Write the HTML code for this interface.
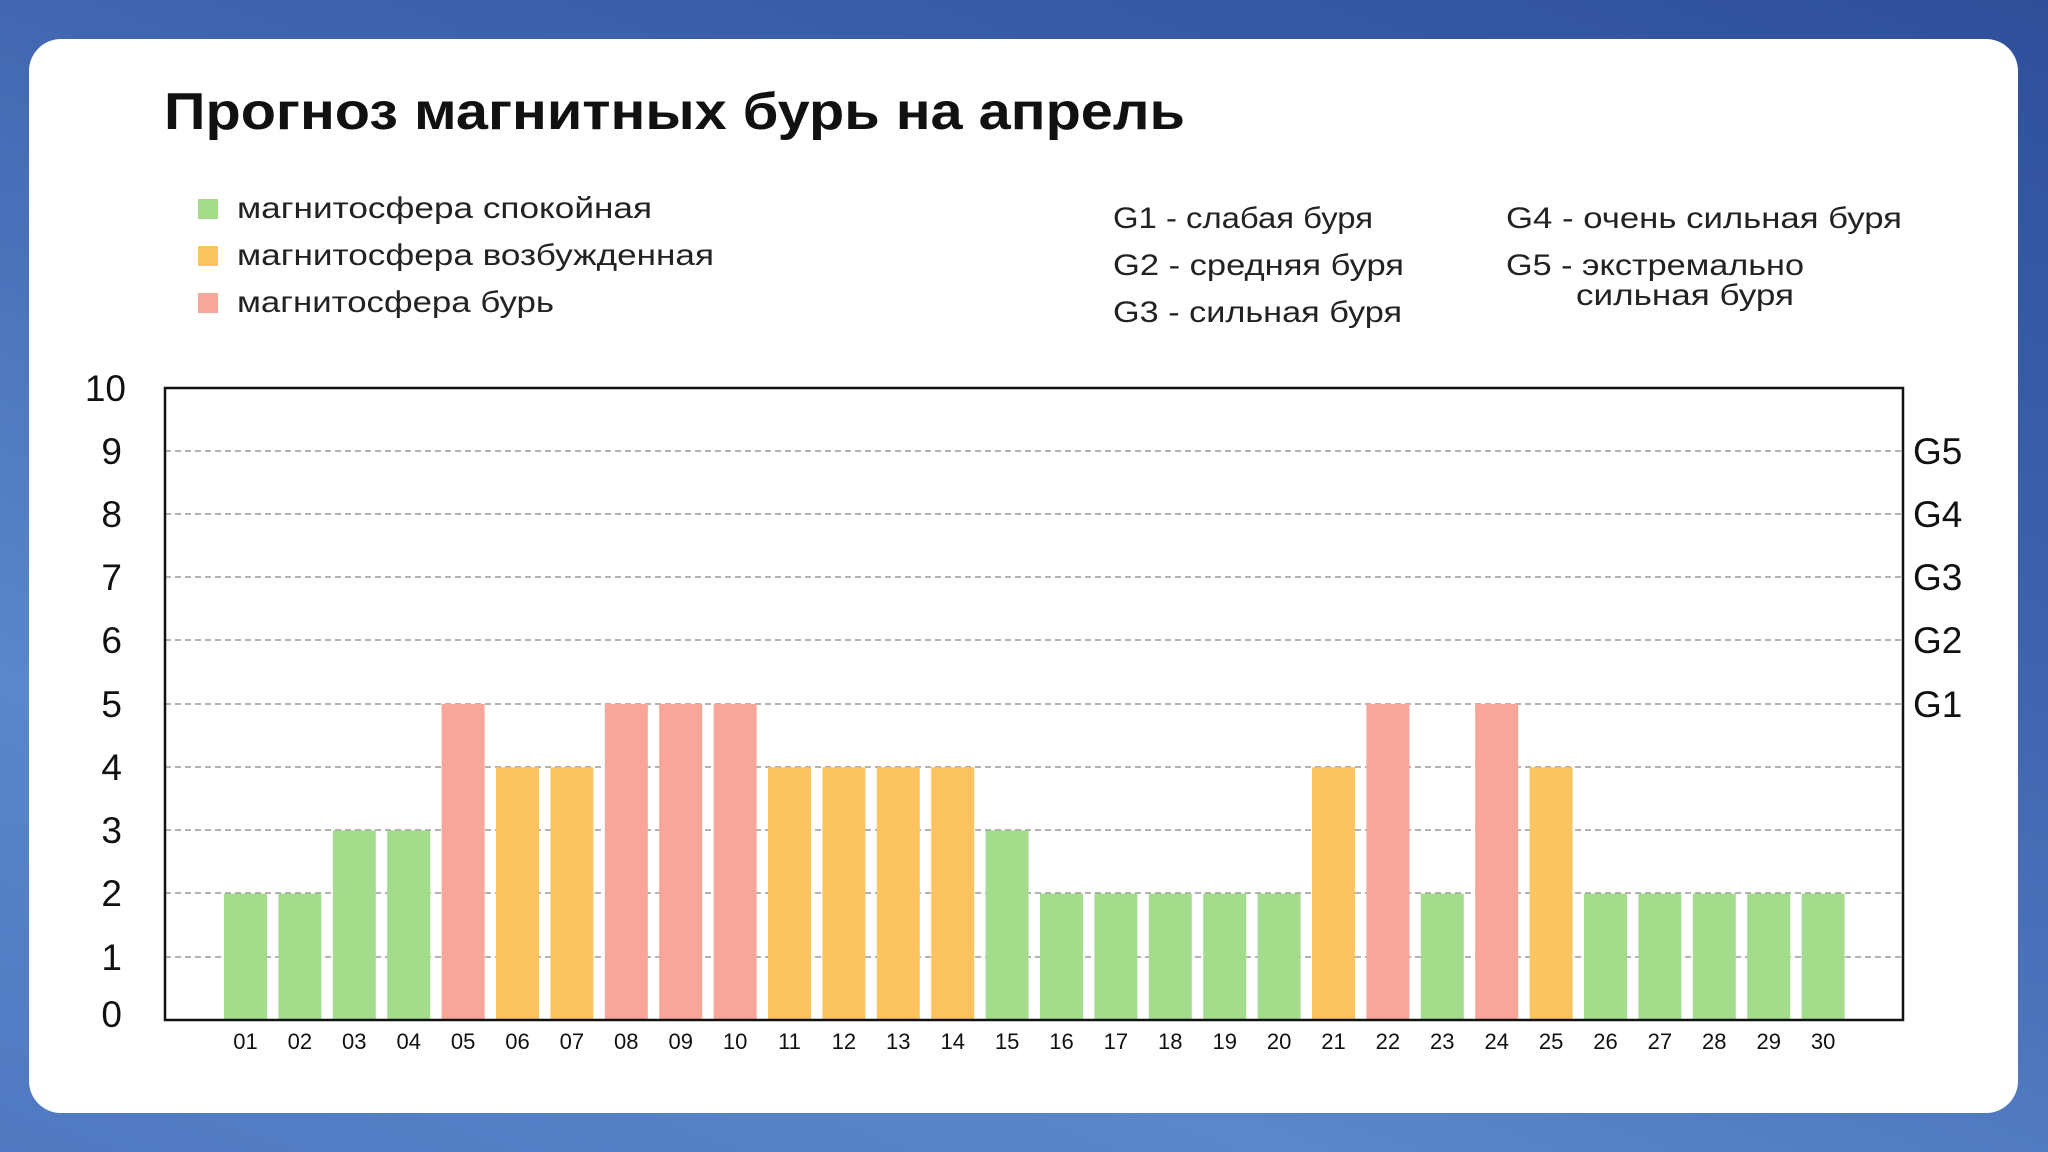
<!DOCTYPE html>
<html><head><meta charset="utf-8"><style>
html,body{margin:0;padding:0;width:2048px;height:1152px;overflow:hidden;}
body{background:linear-gradient(200deg,#2f4f9a 0%,#3f63ad 35%,#5a87cc 75%,#4f78c0 100%);font-family:"Liberation Sans","DejaVu Sans",sans-serif;}
</style></head><body>
<svg width="2048" height="1152" xmlns="http://www.w3.org/2000/svg" style="position:absolute;left:0;top:0">
<rect x="29" y="39" width="1989" height="1074" rx="32" fill="#fff"/>
<text x="164" y="129" font-size="52" font-weight="bold" fill="#111" textLength="1021" lengthAdjust="spacingAndGlyphs">Прогноз магнитных бурь на апрель</text>
<g font-size="30" fill="#222" lengthAdjust="spacingAndGlyphs">
<rect x="198" y="199" width="20" height="20" fill="#a3dc8b"/><text x="237" y="218" textLength="415" lengthAdjust="spacingAndGlyphs">магнитосфера спокойная</text>
<rect x="198" y="246" width="20" height="20" fill="#fbc45e"/><text x="237" y="265" textLength="477" lengthAdjust="spacingAndGlyphs">магнитосфера возбужденная</text>
<rect x="198" y="293" width="20" height="20" fill="#f8a59a"/><text x="237" y="312" textLength="317" lengthAdjust="spacingAndGlyphs">магнитосфера бурь</text>
<text x="1113" y="228" textLength="260" lengthAdjust="spacingAndGlyphs">G1 - слабая буря</text>
<text x="1113" y="275" textLength="291" lengthAdjust="spacingAndGlyphs">G2 - средняя буря</text>
<text x="1113" y="322" textLength="289" lengthAdjust="spacingAndGlyphs">G3 - сильная буря</text>
<text x="1506" y="228" textLength="396" lengthAdjust="spacingAndGlyphs">G4 - очень сильная буря</text>
<text x="1506" y="275" textLength="298" lengthAdjust="spacingAndGlyphs">G5 - экстремально</text>
<text x="1576" y="305" textLength="218" lengthAdjust="spacingAndGlyphs">сильная буря</text>
</g>
<g stroke="#999" stroke-width="1.5" stroke-dasharray="6,4">
<line x1="165" x2="1903" y1="451" y2="451"/><line x1="165" x2="1903" y1="514" y2="514"/>
<line x1="165" x2="1903" y1="577" y2="577"/><line x1="165" x2="1903" y1="640" y2="640"/>
<line x1="165" x2="1903" y1="704" y2="704"/><line x1="165" x2="1903" y1="767" y2="767"/>
<line x1="165" x2="1903" y1="830" y2="830"/><line x1="165" x2="1903" y1="893" y2="893"/>
<line x1="165" x2="1903" y1="957" y2="957"/>
</g>
<g id="bars"></g>
<rect x="165" y="388" width="1738" height="632" fill="none" stroke="#111" stroke-width="2.5"/>
<g font-size="37" fill="#111" text-anchor="end">
<text x="126" y="401">10</text><text x="122" y="464">9</text><text x="122" y="527">8</text><text x="122" y="590">7</text><text x="122" y="653">6</text><text x="122" y="717">5</text><text x="122" y="780">4</text><text x="122" y="843">3</text><text x="122" y="906">2</text><text x="122" y="970">1</text><text x="122" y="1027">0</text>
</g>
<g font-size="37" fill="#111">
<text x="1913" y="464">G5</text><text x="1913" y="527">G4</text><text x="1913" y="590">G3</text><text x="1913" y="653">G2</text><text x="1913" y="717">G1</text>
</g>
<g id="xl" font-size="22" fill="#111" text-anchor="middle"></g>
</svg>
<script>
var v=[2,2,3,3,5,4,4,5,5,5,4,4,4,4,3,2,2,2,2,2,4,5,2,5,4,2,2,2,2,2];
var ns="http://www.w3.org/2000/svg",b=document.getElementById('bars'),xl=document.getElementById('xl');
v.forEach(function(d,i){var cx=245.5+i*54.4,h=d*63.2;
var r=document.createElementNS(ns,'rect');r.setAttribute('x',cx-21.5);r.setAttribute('width',43);r.setAttribute('y',1020-h);r.setAttribute('height',h);
r.setAttribute('fill',d>=5?'#f8a59a':d==4?'#fbc45e':'#a3dc8b');b.appendChild(r);
var t=document.createElementNS(ns,'text');t.setAttribute('x',cx);t.setAttribute('y',1049);t.textContent=(i<9?'0':'')+(i+1);xl.appendChild(t);});
</script>
</body></html>
